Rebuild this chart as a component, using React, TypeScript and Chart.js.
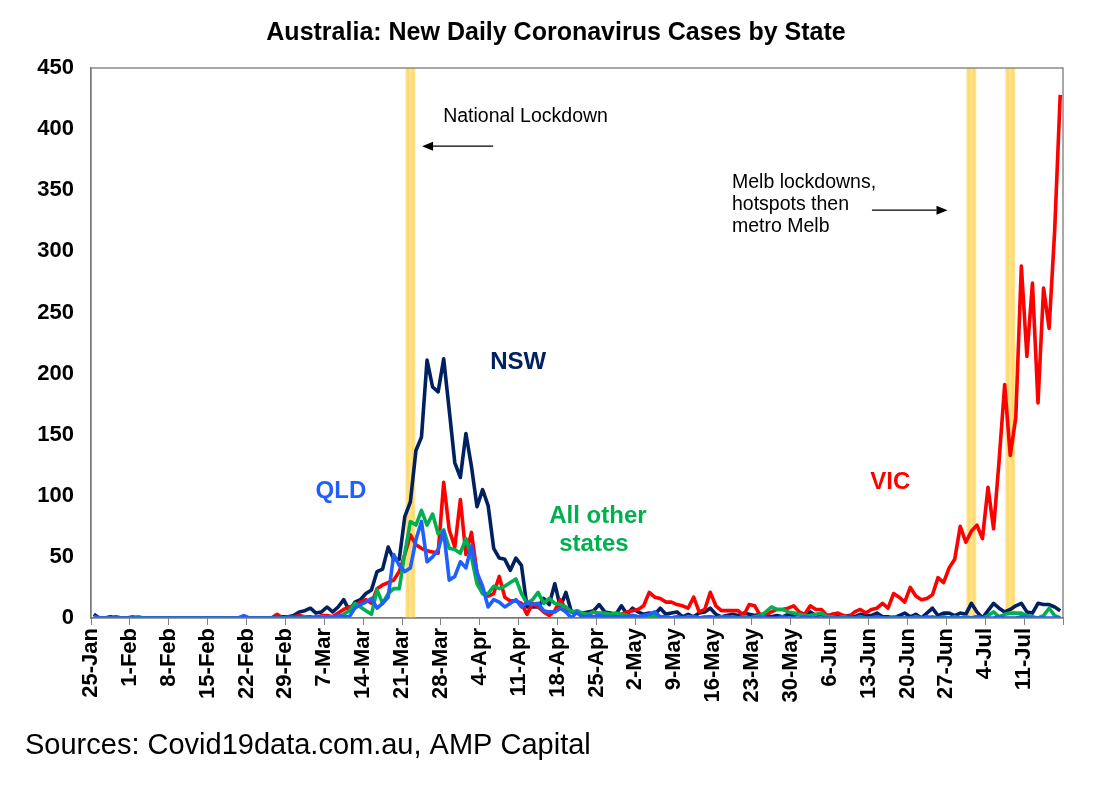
import React, { useEffect, useRef } from 'react';
import { Chart, registerables } from 'chart.js';

Chart.register(...registerables);

// Weekly tick labels (every 7 days starting 25-Jan-2020)
const tickLabels = [
  '25-Jan', '1-Feb', '8-Feb', '15-Feb', '22-Feb', '29-Feb', '7-Mar', '14-Mar', '21-Mar',
  '28-Mar', '4-Apr', '11-Apr', '18-Apr', '25-Apr', '2-May', '9-May', '16-May', '23-May',
  '30-May', '6-Jun', '13-Jun', '20-Jun', '27-Jun', '4-Jul', '11-Jul',
];
const axisDays = 175; // 25-Jan .. 18-Jul

// Daily new cases, 25-Jan .. 17-Jul (one row per week)
const nsw = [
  3, 0, 0, 1, 0, 0, 0,
  0, 0, 0, 0, 0, 0, 0,
  0, 0, 0, 0, 0, 0, 0,
  0, 0, 0, 0, 0, 0, 0,
  0, 0, 0, 0, 0, 0, 1,
  1, 2, 5, 6, 8, 4, 5,
  9, 5, 9, 15, 6, 13, 15,
  20, 23, 38, 40, 58, 48, 48,
  83, 95, 137, 148, 211, 189, 185,
  212, 170, 127, 115, 151, 124, 91,
  105, 92, 57, 49, 48, 39, 49,
  43, 9, 9, 9, 16, 11, 28,
  9, 21, 5, 4, 4, 5, 6,
  11, 5, 4, 3, 10, 3, 8,
  5, 3, 4, 3, 8, 3, 4,
  5, 1, 3, 1, 4, 5, 8,
  3, 1, 2, 3, 2, 4, 3,
  2, 3, 2, 1, 2, 1, 3,
  2, 4, 3, 5, 2, 3, 1,
  3, 2, 1, 2, 1, 3, 2,
  2, 4, 1, 1, 0, 2, 4,
  1, 3, 0, 4, 8, 2, 4,
  4, 2, 4, 3, 12, 5, 0,
  6, 12, 8, 5, 7, 10, 12,
  5, 4, 12, 11, 11, 9, 6,
];
const vic = [
  1, 0, 0, 0, 1, 0, 0,
  1, 0, 0, 0, 0, 0, 0,
  0, 0, 0, 0, 0, 0, 0,
  0, 0, 0, 0, 0, 0, 0,
  0, 0, 0, 0, 0, 3, 0,
  1, 1, 2, 1, 1, 0, 2,
  2, 1, 4, 7, 9, 10, 13,
  15, 12, 24, 27, 29, 31, 38,
  52, 68, 60, 57, 55, 54, 53,
  111, 72, 58, 97, 52, 70, 37,
  20, 18, 20, 34, 17, 14, 14,
  12, 3, 12, 9, 5, 2, 6,
  15, 7, 5, 4, 2, 3, 5,
  3, 2, 2, 2, 3, 5, 6,
  7, 10, 21, 17, 16, 13, 13,
  11, 10, 8, 17, 5, 7, 21,
  10, 6, 6, 6, 6, 2, 11,
  10, 2, 3, 5, 7, 7, 8,
  10, 5, 3, 10, 7, 7, 2,
  3, 4, 2, 1, 5, 7, 4,
  7, 8, 12, 8, 20, 17, 13,
  25, 18, 15, 16, 19, 33, 29,
  41, 48, 75, 62, 71, 76, 65,
  107, 73, 129, 191, 133, 164, 288,
  214, 274, 176, 270, 237, 317, 428,
];
const qld = [
  1, 0, 0, 0, 0, 0, 0,
  0, 0, 0, 0, 0, 0, 0,
  0, 0, 0, 0, 0, 0, 0,
  0, 0, 0, 0, 0, 0, 2,
  0, 0, 0, 0, 0, 0, 0,
  0, 0, 0, 0, 0, 1, 0,
  1, 0, 2, 1, 1, 8, 11,
  13, 16, 8, 12, 17, 52, 43,
  38, 41, 64, 79, 46, 50, 56,
  71, 31, 34, 46, 41, 59, 37,
  26, 9, 15, 13, 9, 12, 15,
  9, 13, 11, 12, 6, 5, 5,
  8, 5, 0, 5, 0, 2, 1,
  2, 1, 1, 0, 1, 1, 2,
  1, 2, 3, 5, 1, 1, 0,
  1, 0, 0, 1, 0, 0, 1,
  0, 0, 1, 0, 0, 0, 0,
  0, 1, 0, 0, 0, 1, 0,
  0, 0, 1, 0, 0, 0, 0,
  0, 0, 0, 0, 0, 0, 0,
  0, 1, 0, 0, 0, 0, 0,
  0, 0, 0, 1, 0, 0, 0,
  0, 0, 0, 0, 0, 1, 0,
  0, 0, 1, 0, 0, 0, 1,
  0, 0, 0, 0, 0, 0, 0,
];
const otherStates = [
  0, 0, 0, 0, 0, 0, 0,
  0, 1, 0, 0, 0, 0, 0,
  0, 0, 0, 0, 0, 0, 0,
  0, 0, 0, 0, 0, 0, 0,
  0, 0, 0, 0, 0, 0, 0,
  0, 0, 0, 1, 0, 0, 1,
  1, 1, 1, 3, 6, 12, 9,
  6, 3, 23, 12, 20, 24, 24,
  53, 79, 76, 88, 76, 85, 69,
  72, 57, 56, 53, 65, 50, 28,
  20, 20, 26, 24, 26, 29, 32,
  20, 12, 15, 21, 12, 16, 12,
  11, 9, 5, 6, 4, 3, 5,
  4, 4, 3, 4, 3, 2, 2,
  1, 1, 1, 2, 1, 1, 0,
  1, 0, 1, 1, 0, 1, 1,
  0, 1, 0, 1, 0, 1, 0,
  1, 2, 5, 9, 7, 7, 5,
  4, 3, 2, 2, 3, 4, 1,
  1, 0, 1, 0, 0, 1, 0,
  0, 1, 0, 0, 1, 0, 0,
  0, 1, 0, 0, 1, 0, 1,
  0, 1, 0, 1, 0, 1, 0,
  2, 5, 1, 3, 4, 4, 4,
  2, 1, 0, 2, 8, 2, 0,
];

// Lockdown days (day index from 25-Jan): 22-Mar, 1-Jul, 8-Jul
const lockdownDays = [57, 158, 165];

const NAVY = '#002060';
const RED = '#FF0000';
const BLUE = '#1F5FFF';
const GREEN = '#00B050';
const FONT = "'Liberation Sans', Arial, sans-serif";

// Series name labels placed in data units
const seriesLabels = [
  { lines: ['NSW'], x: 76.9, y: 209, color: NAVY, align: 'center' as CanvasTextAlign },
  { lines: ['QLD'], x: 45.0, y: 104, color: BLUE, align: 'center' as CanvasTextAlign },
  { lines: ['VIC'], x: 143.9, y: 111, color: RED, align: 'center' as CanvasTextAlign },
  { lines: ['All other', 'states'], x: 82.5, y: 83, color: GREEN, align: 'left' as CanvasTextAlign },
];

const noteLabels = [
  { lines: ['National Lockdown'], x: 63.4, y: 410.6 },
  { lines: ['Melb lockdowns,', 'hotspots then', 'metro Melb'], x: 115.4, y: 356.6 },
];
const noteArrows = [
  { from: 72.4, to: 59.6, y: 386 },
  { from: 140.6, to: 154.2, y: 333.7 },
];

const decorPlugin = {
  id: 'decor',
  beforeDatasetsDraw(chart: any) {
    const { ctx, chartArea: ca, scales } = chart;
    const x = scales.x;
    ctx.save();
    lockdownDays.forEach((d) => {
      const c = x.getPixelForValue(d + 0.5);
      const w = x.getPixelForValue(1.8) - x.getPixelForValue(0);
      const g = ctx.createLinearGradient(c - w / 2, 0, c + w / 2, 0);
      g.addColorStop(0, '#FFE7A0');
      g.addColorStop(0.25, '#FFD966');
      g.addColorStop(0.5, '#FFE595');
      g.addColorStop(0.75, '#FFD966');
      g.addColorStop(1, '#FFE7A0');
      ctx.fillStyle = g;
      ctx.fillRect(c - w / 2, ca.top, w, ca.bottom - ca.top);
    });
    ctx.restore();
  },
  afterDatasetsDraw(chart: any) {
    const { ctx, chartArea: ca, scales } = chart;
    const x = scales.x;
    const y = scales.y;
    ctx.save();
    // plot frame
    ctx.strokeStyle = '#7a7a7a';
    ctx.lineWidth = 1.3;
    ctx.strokeRect(ca.left, ca.top, ca.right - ca.left, ca.bottom - ca.top);

    // series labels
    ctx.font = `bold 24px ${FONT}`;
    ctx.textBaseline = 'middle';
    seriesLabels.forEach((l) => {
      ctx.fillStyle = l.color;
      ctx.textAlign = l.align;
      const px = x.getPixelForValue(l.x);
      const py = y.getPixelForValue(l.y);
      l.lines.forEach((t, i) => {
        const off = l.align === 'left' && i > 0 ? 10 : 0;
        ctx.fillText(t, px + off, py + i * 28);
      });
    });

    // notes
    ctx.font = `19.5px ${FONT}`;
    ctx.fillStyle = '#000';
    ctx.textAlign = 'left';
    noteLabels.forEach((n) => {
      const px = x.getPixelForValue(n.x);
      const py = y.getPixelForValue(n.y);
      n.lines.forEach((t, i) => ctx.fillText(t, px, py + i * 22));
    });

    // arrows
    ctx.strokeStyle = '#000';
    ctx.fillStyle = '#000';
    ctx.lineWidth = 1.3;
    noteArrows.forEach((a) => {
      const x1 = x.getPixelForValue(a.from);
      const x2 = x.getPixelForValue(a.to);
      const py = y.getPixelForValue(a.y);
      const dir = Math.sign(x2 - x1);
      const head = 11;
      ctx.beginPath();
      ctx.moveTo(x1, py);
      ctx.lineTo(x2 - dir * head, py);
      ctx.stroke();
      ctx.beginPath();
      ctx.moveTo(x2, py);
      ctx.lineTo(x2 - dir * head, py - 4.5);
      ctx.lineTo(x2 - dir * head, py + 4.5);
      ctx.closePath();
      ctx.fill();
    });
    ctx.restore();
  },
  afterDraw(chart: any) {
    const { ctx } = chart;
    ctx.save();
    ctx.fillStyle = '#000';
    ctx.textBaseline = 'middle';
    ctx.textAlign = 'center';
    ctx.font = `bold 25px ${FONT}`;
    ctx.fillText('Australia: New Daily Coronavirus Cases by State', 556, 33);
    ctx.textAlign = 'left';
    ctx.font = `29px ${FONT}`;
    ctx.fillText('Sources: Covid19data.com.au, AMP Capital', 25, 746);
    ctx.restore();
  },
};

function toPoints(values: number[]) {
  return values.map((v, i) => ({ x: i + 0.5, y: v }));
}

export default function App() {
  const canvasRef = useRef<HTMLCanvasElement | null>(null);

  useEffect(() => {
    if (!canvasRef.current) return;
    Chart.defaults.font.family = FONT;
    const lineDs = (label: string, data: number[], color: string) => ({
      label,
      data: toPoints(data),
      borderColor: color,
      backgroundColor: color,
      borderWidth: 3.6,
      pointRadius: 0,
      tension: 0,
      borderJoinStyle: 'round' as const,
      fill: false,
    });
    const chart = new Chart(canvasRef.current, {
      type: 'line',
      data: {
        datasets: [
          lineDs('QLD', qld, BLUE),
          lineDs('All other states', otherStates, GREEN),
          lineDs('VIC', vic, RED),
          lineDs('NSW', nsw, NAVY),
        ],
      },
      options: {
        animation: false,
        responsive: true,
        maintainAspectRatio: false,
        layout: { padding: { top: 68, right: 37, left: 0, bottom: 0 } },
        plugins: {
          legend: { display: false },
          title: { display: false },
          tooltip: { enabled: false },
        },
        scales: {
          x: {
            type: 'linear',
            min: 0,
            max: axisDays,
            afterFit: (s: any) => {
              s.height = 167;
            },
            ticks: {
              stepSize: 7,
              autoSkip: false,
              minRotation: 90,
              maxRotation: 90,
              padding: 3,
              color: '#000',
              font: { size: 22, weight: 'bold', family: FONT },
              callback: (v: any) => tickLabels[Math.round(Number(v) / 7)] ?? '',
            },
            grid: {
              drawOnChartArea: false,
              drawTicks: true,
              tickLength: 7,
              color: '#808080',
              lineWidth: 1,
            },
            border: { display: true, color: '#7a7a7a', width: 1.3 },
          },
          y: {
            min: 0,
            max: 450,
            afterFit: (s: any) => {
              s.width = 91;
            },
            ticks: {
              stepSize: 50,
              padding: 17,
              color: '#000',
              font: { size: 22, weight: 'bold', family: FONT },
            },
            grid: { display: false, drawTicks: false },
            border: { display: true, color: '#7a7a7a', width: 1.3 },
          },
        },
      },
      plugins: [decorPlugin],
    });
    return () => chart.destroy();
  }, []);

  return (
    <div style={{ position: 'fixed', left: 0, top: 0, width: 1100, height: 785, background: '#fff' }}>
      <canvas ref={canvasRef} />
    </div>
  );
}
